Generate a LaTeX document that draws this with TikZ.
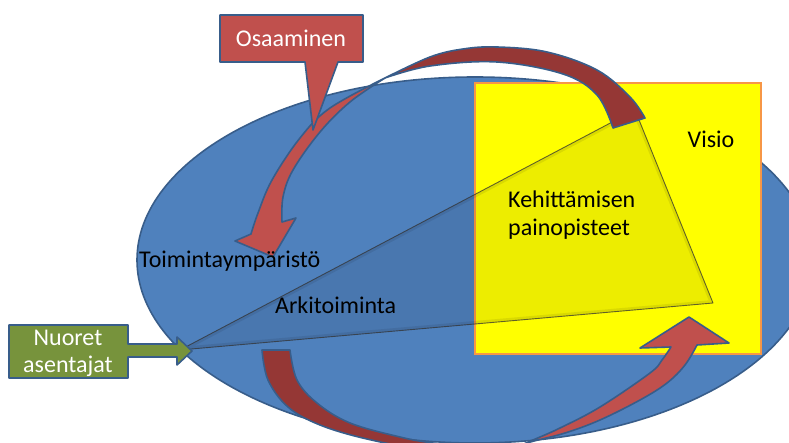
\documentclass[tikz,border=0pt]{standalone}
\usepackage{fontspec}
\setmainfont{Carlito}
\definecolor{ellblue}{HTML}{4F81BD}
\definecolor{edgeblue}{HTML}{385D8A}
\definecolor{lightred}{HTML}{C0504D}
\definecolor{darkred}{HTML}{953735}
\definecolor{olive}{HTML}{77933C}
\definecolor{visioyellow}{HTML}{FFFF00}
\definecolor{visioorange}{HTML}{F79646}
\tikzset{
  outline/.style={draw=edgeblue, line width=1.6pt, line join=round},
  bandlight/.style={outline, fill=lightred},
  banddark/.style={outline, fill=darkred},
  label/.style={inner sep=0pt, font=\fontsize{24}{29}\selectfont, text=black},
  whitelabel/.style={label, text=white},
}
\begin{document}
\begin{tikzpicture}[x=1pt, y=-1pt]
  \useasboundingbox (0,0) rectangle (789,443);
  \clip (0,0) rectangle (789,443);

  % environment ellipse
  \draw[outline, fill=ellblue] (475,260) ellipse [x radius=338, y radius=183];

  % vision box
  \draw[fill=visioyellow, draw=visioorange, line width=2.2pt] (475,83) rectangle (761,354);

  % focus wedge
  \fill[black, opacity=0.07] (180,350) -- (635,110) -- (713,303) -- cycle;
  \begin{scope}
    \clip (180,350) -- (635,110) -- (713,303) -- cycle;
    \draw[black, opacity=0.08, line width=6pt, line join=round] (180,350) -- (635,110) -- (713,303) -- cycle;
  \end{scope}
  \draw[black!80, opacity=0.75, line width=0.9pt, line join=round] (180,350) -- (635,110) -- (713,303) -- cycle;

  % upper curved arrow: back side of the band
  \path[banddark]
    plot[smooth, tension=0.6] coordinates {(385,78) (430,57) (463,49) (497,47) (547,52) (597,70) (630,97) (645,118)}
    -- (613,128)
    -- plot[smooth, tension=0.6] coordinates {(613,128) (597,95) (563,74) (497,62) (430,66) (385,78)}
    -- cycle;
  % upper curved arrow: front side with head
  \path[bandlight]
    plot[smooth, tension=0.6] coordinates {(385,78) (330,108) (300,138) (272,180) (258,213) (251,234)}
    -- (235,241) -- (273,257) -- (296,218) -- (282,222)
    -- plot[smooth, tension=0.6] coordinates {(282,222) (283,197) (293,170) (320,132) (350,102) (385,78)}
    -- cycle;

  % lower curved arrow: back side of the band
  \path[banddark]
    plot[smooth, tension=0.6] coordinates {(262,350) (268,380) (288,407) (320,425) (367,439) (420,448) (505,452)}
    -- plot[smooth, tension=0.6] coordinates {(505,452) (433,443) (400,437) (350,423) (317,403) (297,380) (290,350)}
    -- cycle;
  % lower curved arrow: front side with head
  \path[bandlight]
    plot[smooth, tension=0.6] coordinates {(505,452) (527,443) (565,433) (600,420) (640,400) (667,383) (685,365) (697,345)}
    -- (729,343) -- (689,317) -- (640,348) -- (671,347)
    -- plot[smooth, tension=0.6] coordinates {(671,347) (662,360) (650,373) (600,407) (560,428) (533,440) (505,452)}
    -- cycle;

  % labels
  \node[label, anchor=base] (visio) at (711,148) {Visio};
  \node[label, anchor=base west] (kehitys1) at (508,208) {Kehittämisen};
  \node[label, anchor=base west] (kehitys2) at (508,236) {painopisteet};
  \node[label, anchor=base west] (toiminta) at (139,268) {Toimintaympäristö};
  \node[label, anchor=base west] (arki) at (275,313) {Arkitoiminta};

  % competence callout
  \draw[outline, fill=lightred] (220,15) -- (363,15) -- (363,62) -- (338,62) -- (313,130) -- (305,62) -- (220,62) -- cycle;
  \node[whitelabel, anchor=base] (osaaminen) at (291,47) {Osaaminen};

  % young fitters callout arrow
  \draw[outline, fill=olive] (9,325) -- (128,325) -- (128,344) -- (177,344) -- (177,337) -- (192,351)
    -- (177,365) -- (177,357) -- (128,357) -- (128,378) -- (9,378) -- cycle;
  \node[whitelabel, anchor=base] (nuoret) at (68,345) {Nuoret};
  \node[whitelabel, anchor=base] (asentajat) at (68,372) {asentajat};
\end{tikzpicture}
\end{document}
